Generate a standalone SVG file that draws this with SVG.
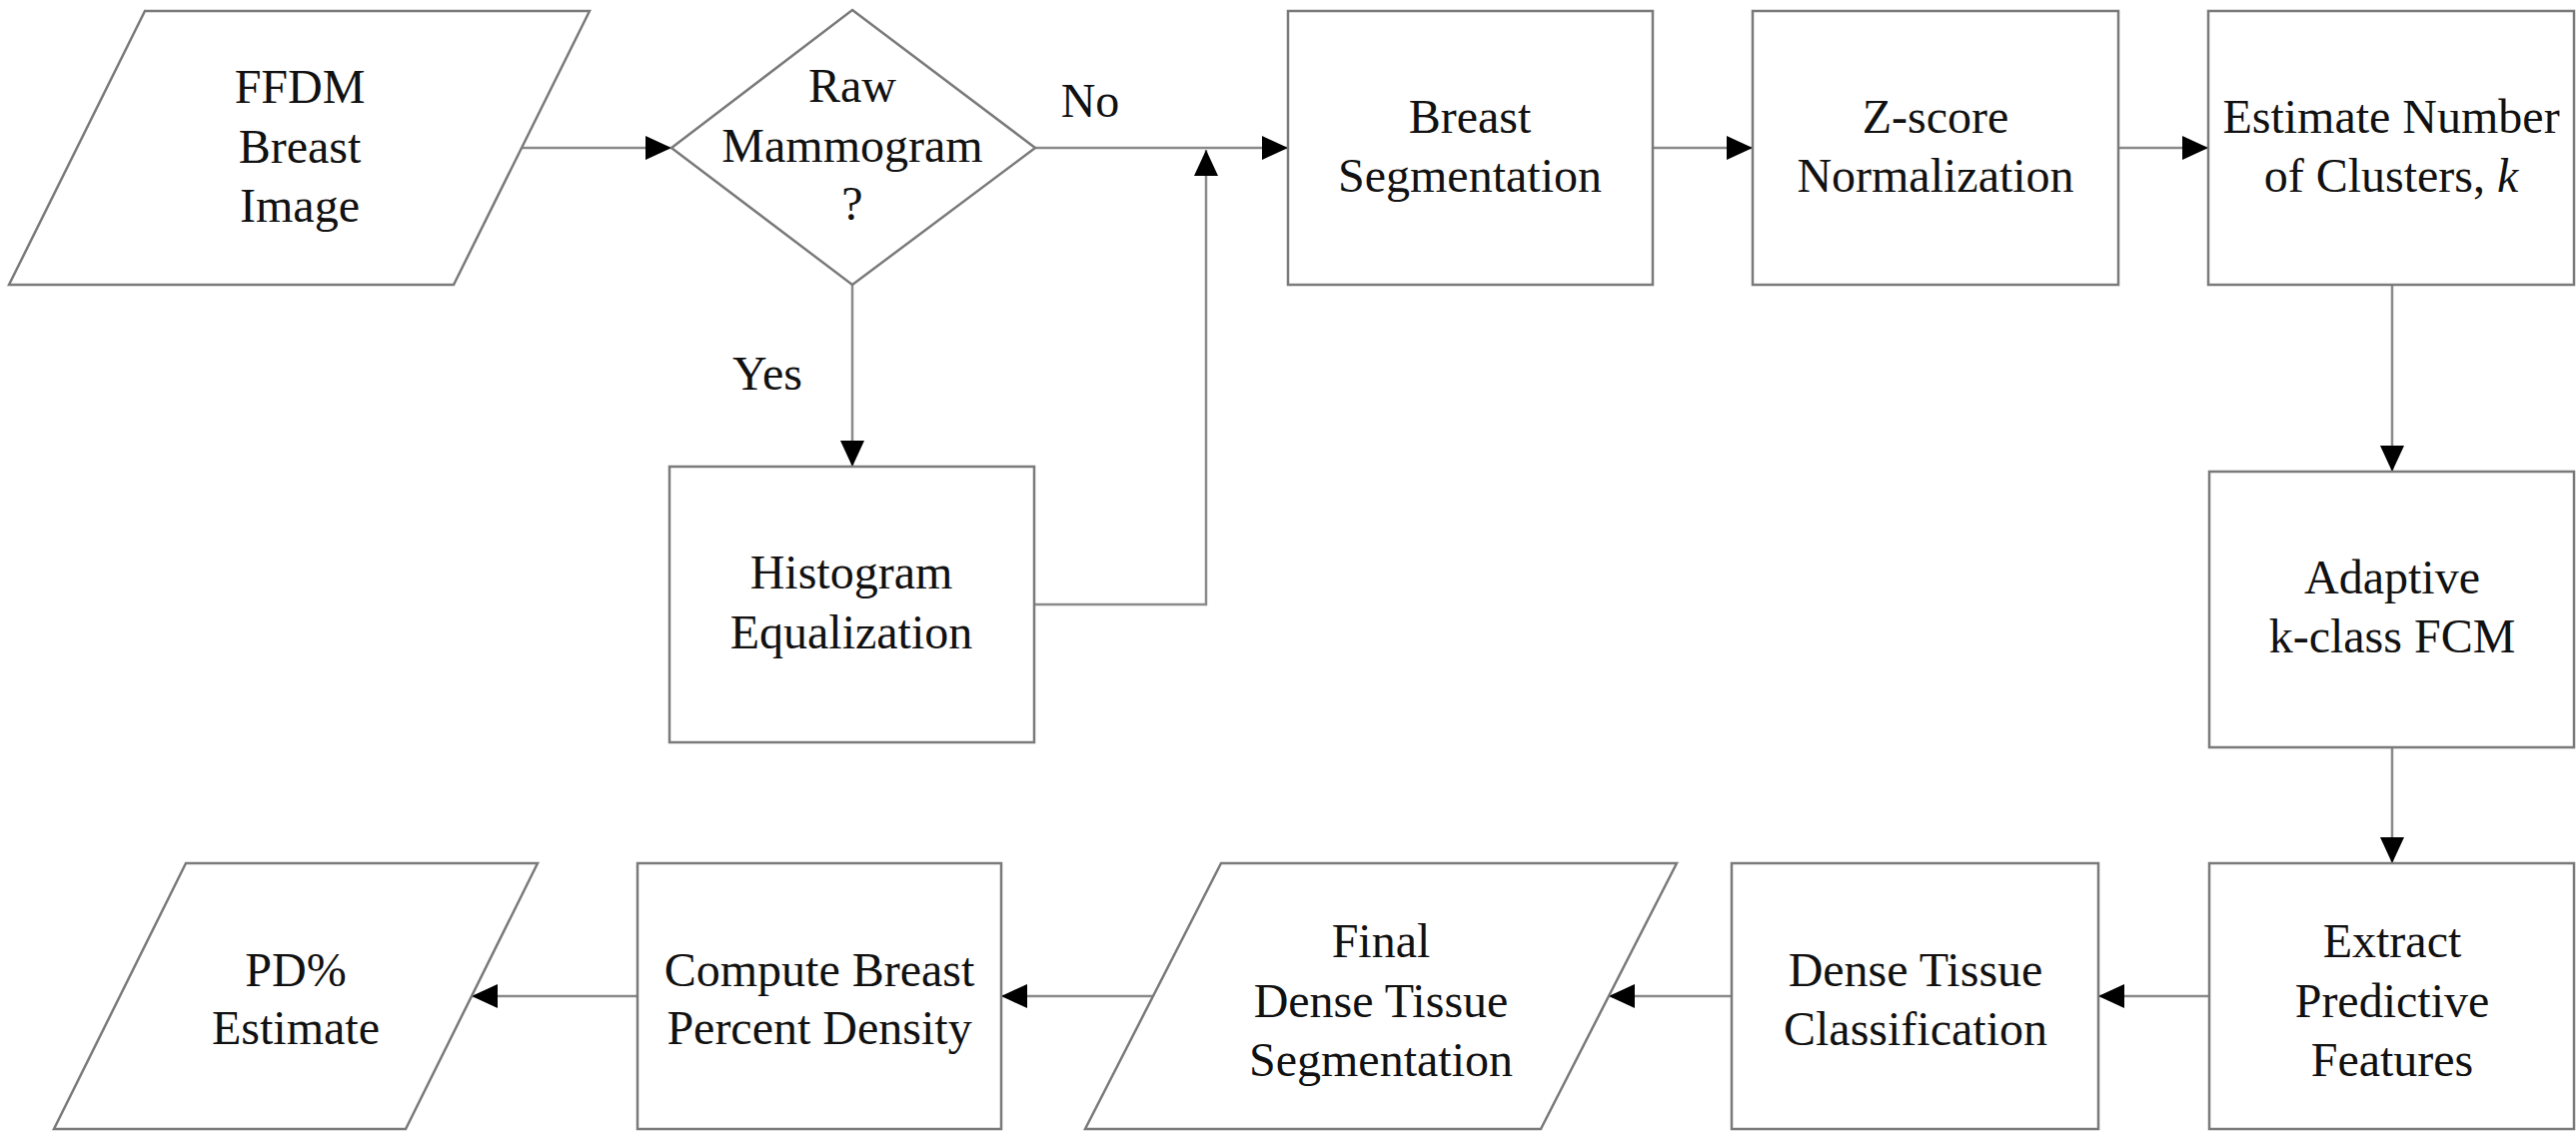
<svg xmlns="http://www.w3.org/2000/svg" width="2578" height="1140" viewBox="0 0 2578 1140">
<style>
.shape{fill:#fff;stroke:#7a7a7a;stroke-width:2.5}
.conn{fill:none;stroke:#8a8a8a;stroke-width:2.5}
text{font-family:"Liberation Serif","Times New Roman",serif;font-size:48px;fill:#111;text-anchor:middle}
</style>
<defs>
<marker id="ah" markerUnits="userSpaceOnUse" markerWidth="26" markerHeight="24" refX="26" refY="12" orient="auto">
<path d="M0,0 L26,12 L0,24 z" fill="#000"/>
</marker>
</defs>
<rect width="2578" height="1140" fill="#fff"/>
<g id="connectors">
<line class="conn" x1="522" y1="148" x2="672" y2="148" marker-end="url(#ah)"/>
<line class="conn" x1="1036" y1="148" x2="1289" y2="148" marker-end="url(#ah)"/>
<line class="conn" x1="853" y1="285" x2="853" y2="467" marker-end="url(#ah)"/>
<polyline class="conn" points="1035,605 1207,605 1207,150" marker-end="url(#ah)"/>
<line class="conn" x1="1654" y1="148" x2="1754" y2="148" marker-end="url(#ah)"/>
<line class="conn" x1="2120" y1="148" x2="2210" y2="148" marker-end="url(#ah)"/>
<line class="conn" x1="2394" y1="285" x2="2394" y2="472" marker-end="url(#ah)"/>
<line class="conn" x1="2394" y1="748" x2="2394" y2="864" marker-end="url(#ah)"/>
<line class="conn" x1="2211" y1="997" x2="2100" y2="997" marker-end="url(#ah)"/>
<line class="conn" x1="1733" y1="997" x2="1610" y2="997" marker-end="url(#ah)"/>
<line class="conn" x1="1154" y1="997" x2="1002" y2="997" marker-end="url(#ah)"/>
<line class="conn" x1="638" y1="997" x2="472" y2="997" marker-end="url(#ah)"/>
<text x="1091" y="117">No</text>
<text x="768" y="390">Yes</text>
</g>
<g id="ffdm">
<polygon class="shape" points="145,11 590,11 454,285 9,285"/>
<text x="300" y="103">FFDM</text>
<text x="300" y="163">Breast</text>
<text x="300" y="222">Image</text>
</g>
<g id="raw">
<polygon class="shape" points="853,10 1036,148 853,285 672,148"/>
<text x="853" y="102">Raw</text>
<text x="853" y="162">Mammogram</text>
<text x="853" y="220">?</text>
</g>
<g id="hist">
<rect class="shape" x="670" y="467" width="365" height="276"/>
<text x="852" y="589">Histogram</text>
<text x="852" y="649">Equalization</text>
</g>
<g id="bseg">
<rect class="shape" x="1289" y="11" width="365" height="274"/>
<text x="1471" y="133">Breast</text>
<text x="1471" y="192">Segmentation</text>
</g>
<g id="zscore">
<rect class="shape" x="1754" y="11" width="366" height="274"/>
<text x="1937" y="133">Z-score</text>
<text x="1937" y="192">Normalization</text>
</g>
<g id="estk">
<rect class="shape" x="2210" y="11" width="366" height="274"/>
<text x="2393" y="133">Estimate Number</text>
<text x="2393" y="192">of Clusters, <tspan font-style="italic">k</tspan></text>
</g>
<g id="fcm">
<rect class="shape" x="2211" y="472" width="365" height="276"/>
<text x="2394" y="594">Adaptive</text>
<text x="2394" y="653">k-class FCM</text>
</g>
<g id="extract">
<rect class="shape" x="2211" y="864" width="365" height="266"/>
<text x="2394" y="958">Extract</text>
<text x="2394" y="1018">Predictive</text>
<text x="2394" y="1077">Features</text>
</g>
<g id="dtc">
<rect class="shape" x="1733" y="864" width="367" height="266"/>
<text x="1917" y="987">Dense Tissue</text>
<text x="1917" y="1046">Classification</text>
</g>
<g id="final">
<polygon class="shape" points="1222,864 1678,864 1542,1130 1086,1130"/>
<text x="1382" y="958">Final</text>
<text x="1382" y="1018">Dense Tissue</text>
<text x="1382" y="1077">Segmentation</text>
</g>
<g id="compute">
<rect class="shape" x="638" y="864" width="364" height="266"/>
<text x="820" y="987">Compute Breast</text>
<text x="820" y="1045">Percent Density</text>
</g>
<g id="pd">
<polygon class="shape" points="186,864 538,864 406,1130 54,1130"/>
<text x="296" y="987">PD%</text>
<text x="296" y="1045">Estimate</text>
</g>
</svg>
